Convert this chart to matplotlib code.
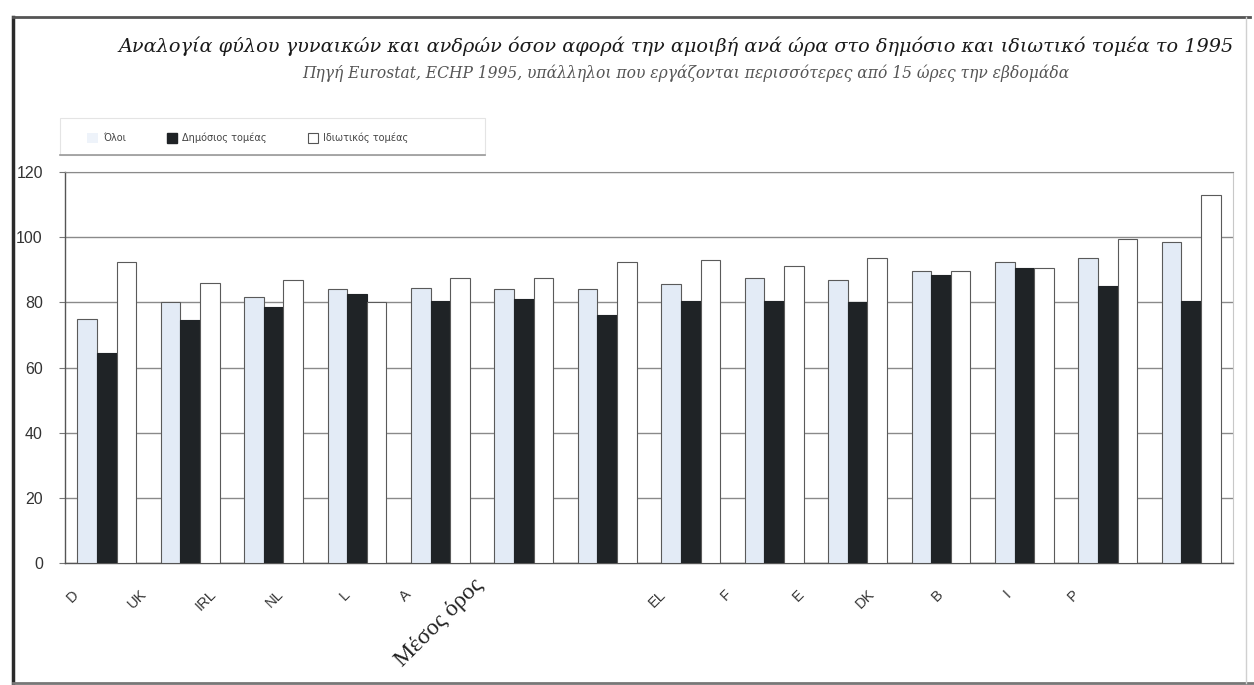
import matplotlib
matplotlib.use("Agg")
import matplotlib.pyplot as plt
import matplotlib.transforms as mtransforms
from matplotlib.patches import Patch, Rectangle
from matplotlib.lines import Line2D
import numpy as np

# Countries (sorted by the overall ratio) with the EU average in place
categories = ["D", "UK", "IRL", "NL", "L", "A", "Μέσος όρος",
              "EL", "F", "E", "DK", "B", "I", "P"]
all_workers = [75, 80, 81.5, 84, 84.5, 84, 84, 85.5, 87.5, 87, 89.5, 92.5, 93.5, 98.5]
public_sector = [64.5, 74.5, 78.5, 82.5, 80.5, 81, 76, 80.5, 80.5, 80, 88.5, 90.5, 85, 80.5]
private_sector = [92.5, 86, 87, 80, 87.5, 87.5, 92.5, 93, 91, 93.5, 89.5, 90.5, 99.5, 113]

series_labels = ["Όλοι", "Δημόσιος τομέας", "Ιδιωτικός τομέας"]
y_ticks = [0, 20, 40, 60, 80, 100, 120]

title = ("Αναλογία φύλου γυναικών και ανδρών όσον αφορά την αμοιβή ανά ώρα "
         "στο δημόσιο και ιδιωτικό τομέα το 1995")
subtitle = ("Πηγή Eurostat, ECHP 1995, υπάλληλοι που εργάζονται περισσότερες "
            "από 15 ώρες την εβδομάδα")

# horizontal shift (pixels) of each category label
label_shift_px = [-30, -46, -60, -76, -93, -115, -127,
                  -27, -45, -56, -69, -84, -99, -114]

W, H = 1254, 685
fig = plt.figure(figsize=(W / 100, H / 100), dpi=100)
fig.patch.set_facecolor("white")

ax = fig.add_axes([65 / W, 1 - 563 / H, (1233 - 65) / W, (563 - 172) / H])

x = np.arange(len(categories))
bw = 0.235
edge = "#5a5a5a"
ax.bar(x - bw, all_workers, bw, color="#e3ebf6", edgecolor=edge, linewidth=0.8, zorder=3)
ax.bar(x, public_sector, bw, color="#1f2326", edgecolor="#1f2326", linewidth=0.8, zorder=3)
ax.bar(x + bw, private_sector, bw, color="white", edgecolor=edge, linewidth=0.8, zorder=3)

ax.set_xlim(-0.5, len(categories) - 0.5)
ax.set_ylim(0, 120)
ax.set_yticks(y_ticks)
ax.yaxis.grid(True, color="#8a8a8a", linewidth=1.0, zorder=0)
ax.set_axisbelow(True)

for s in ["left", "bottom"]:
    ax.spines[s].set_color("#555555")
    ax.spines[s].set_linewidth(1.0)
ax.spines["top"].set_color("#8a8a8a")
ax.spines["right"].set_color("#c8c8c8")

ax.tick_params(axis="y", length=4, width=0.8, color="#777777", pad=12,
               labelsize=11.5, labelcolor="#333333")
for lbl in ax.get_yticklabels():
    lbl.set_fontfamily("Liberation Sans")

ax.set_xticks(x)
ax.set_xticklabels(categories)
ax.tick_params(axis="x", length=0, pad=21)
for lbl, dpx in zip(ax.get_xticklabels(), label_shift_px):
    lbl.set_rotation(45)
    lbl.set_ha("right")
    lbl.set_va("center")
    lbl.set_rotation_mode("anchor")
    lbl.set_color("#333333")
    if lbl.get_text() == "Μέσος όρος":
        lbl.set_fontfamily("Liberation Serif")
        lbl.set_fontsize(17)
        lbl.set_color("#222222")
        shift = mtransforms.ScaledTranslation(dpx / 100, 10 / 100, fig.dpi_scale_trans)
    else:
        lbl.set_fontfamily("Liberation Sans")
        lbl.set_fontsize(10.5)
        shift = mtransforms.ScaledTranslation(dpx / 100, 0, fig.dpi_scale_trans)
    lbl.set_transform(lbl.get_transform() + shift)

# Title block
fig.text(676 / W, 1 - 46 / H, title, ha="center", va="center",
         fontfamily="DejaVu Serif", style="italic", fontsize=13.9, color="#1a1a1a")
fig.text(686 / W, 1 - 73 / H, subtitle, ha="center", va="center",
         fontfamily="DejaVu Serif", style="italic", fontsize=11.2, color="#555555")

# Legend
fig.add_artist(Rectangle((60 / W, 1 - 155 / H), 425 / W, 37 / H,
                         facecolor="none", edgecolor="#e4e4e4", linewidth=0.8))
fig.add_artist(Line2D([60 / W, 485 / W], [1 - 155 / H, 1 - 155 / H],
                      color="#999999", linewidth=1.2))
handles = [Patch(facecolor="#eef3fa", edgecolor="none"),
           Patch(facecolor="#1f2326", edgecolor="#1f2326"),
           Patch(facecolor="white", edgecolor="#555555", linewidth=0.8)]
leg = fig.legend(handles, series_labels, loc="center",
                 bbox_to_anchor=(248 / W, 1 - 138 / H), ncol=3, fontsize=7,
                 frameon=False, handlelength=1.1, handleheight=1.1,
                 handletextpad=0.5, columnspacing=4.2)
for t in leg.get_texts():
    t.set_color("#444444")

# Outer frame
fig.add_artist(Line2D([13 / W, 13 / W], [1 - 17 / H, 1 - 684 / H], color="#2a2a2a", linewidth=2.5))
fig.add_artist(Line2D([13 / W, 1250 / W], [1 - 17 / H, 1 - 17 / H], color="#555555", linewidth=2.0))
fig.add_artist(Line2D([13 / W, 1254 / W], [1 - 683 / H, 1 - 683 / H], color="#777777", linewidth=2.0))
fig.add_artist(Line2D([1246 / W, 1246 / W], [1 - 17 / H, 1 - 683 / H], color="#d0d0d0", linewidth=1.0))

fig.savefig("out.png", dpi=100, facecolor="white")
